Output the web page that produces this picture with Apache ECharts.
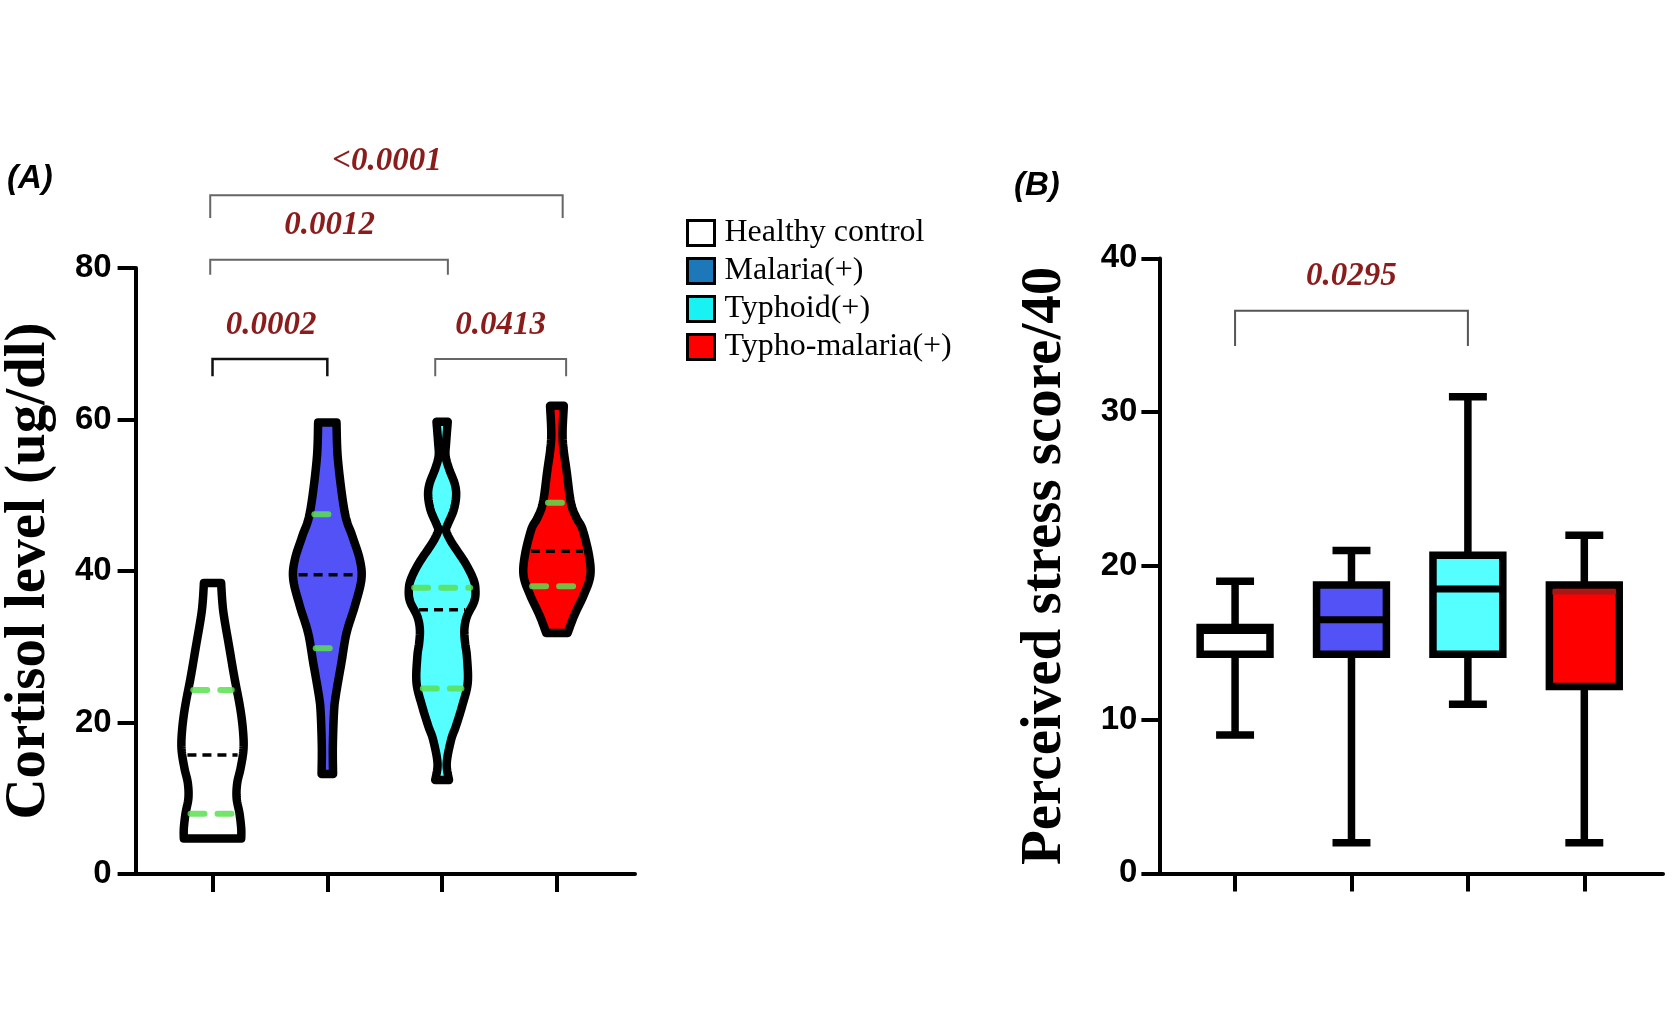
<!DOCTYPE html>
<html>
<head>
<meta charset="utf-8">
<title>Cortisol and perceived stress</title>
<script src="https://cdn.jsdelivr.net/npm/echarts@6/dist/echarts.min.js"></script>
<style>
  html, body { margin: 0; padding: 0; background: #fff; }
  #main { width: 1674px; height: 1034px; }
</style>
</head>
<body>
<div id="main"></div>
<script>
// groups, shared by both panels
const groups = ['Healthy control', 'Malaria(+)', 'Typhoid(+)', 'Typho-malaria(+)'];
const positions = [1, 2, 3, 4];

// (A) violin outlines: [cortisol value, half width in group units], top to bottom
const violinHealthy = [[38.4, 0.075], [36, 0.085], [34, 0.1], [30, 0.145], [26, 0.19], [22, 0.24], [19, 0.265],
    [16.5, 0.27], [14, 0.245], [12, 0.215], [10, 0.21], [8, 0.235], [6, 0.25], [4.7, 0.25]];
const violinMalaria = [[59.6, 0.08], [54.6, 0.093], [47.7, 0.152], [44.6, 0.218], [41.5, 0.283], [38.9, 0.297],
    [35.4, 0.24], [31.8, 0.167], [27.9, 0.123], [23.5, 0.073], [21.3, 0.058], [16.8, 0.048], [13.2, 0.05]];
const violinTyphoid = [[59.7, 0.049], [57, 0.035], [55.2, 0.03], [53.5, 0.06], [51.5, 0.11], [49.9, 0.122], [48, 0.1],
    [46.2, 0.05], [45.3, 0.035], [43.7, 0.086], [41.1, 0.2], [39, 0.27], [37.6, 0.29], [36, 0.28], [34, 0.216],
    [32.3, 0.194], [30.5, 0.2], [28.7, 0.216], [25.2, 0.223], [22.1, 0.173], [19.5, 0.12], [17.7, 0.078],
    [14.6, 0.04], [12.4, 0.06]];
const violinTyphoMalaria = [[61.8, 0.06], [57.4, 0.05], [53, 0.086], [49, 0.122], [47, 0.17], [45.5, 0.223],
    [42, 0.28], [39.3, 0.29], [36.7, 0.23], [34.1, 0.15], [31.8, 0.093]];
const violinMedian = [15.7, 39.5, 34.9, 42.6];
const violinQ1 = [7.95, 29.8, 24.5, 38.0];
const violinQ3 = [24.3, 47.5, 37.8, 49.0];

// (B) perceived stress box plots
const boxMin = [9, 2, 11, 2];
const boxQ1 = [14.25, 14.25, 14.25, 12.15];
const boxMedian = [15.8, 16.5, 18.5, 18.3];
const boxQ3 = [16, 18.75, 20.7, 18.75];
const boxMax = [19, 21, 31, 22];

// p-value brackets (data coordinates)
const pA = ['0.0002', '0.0413', '0.0012', '<0.0001'];
const pA_x1 = [1.0, 2.94, 0.98, 0.98];
const pA_x2 = [2.0, 4.08, 3.05, 4.05];
const pA_y = [68.0, 68.0, 81.1, 89.6];
const pA_leg = [65.7, 65.7, 79.1, 86.6];
const pA_labelX = [1.51, 3.51, 2.02, 2.52];
const pA_labelY = [72.4, 72.4, 85.6, 94.1];

const pB = ['0.0295'];
const pB_x1 = [1.0];
const pB_x2 = [3.0];
const pB_y = [36.6];
const pB_leg = [34.3];
const pB_labelX = [2.0];
const pB_labelY = [38.8];

const violins = [violinHealthy, violinMalaria, violinTyphoid, violinTyphoMalaria];
const fillColors = ['#ffffff', '#5252f7', '#55ffff', '#ff0000'];
const legendColors = ['#ffffff', '#1c78b8', '#18f2f2', '#ff0000'];
const medianColorsB = ['#000', '#000', '#000', '#a81616'];
const bracketColorsA = ['#111', '#666', '#666', '#666'];
const bracketWidthsA = [2.5, 2, 2, 2];
const pColor = '#8b1c1c';
const pFont = 'italic bold 33px "Liberation Serif"';

function smoothSide(pts, steps) {
    const out = [];
    for (let i = 0; i < pts.length - 1; i++) {
        const p0 = pts[Math.max(i - 1, 0)], p1 = pts[i], p2 = pts[i + 1], p3 = pts[Math.min(i + 2, pts.length - 1)];
        for (let s = 0; s < steps; s++) {
            const t = s / steps, t2 = t * t, t3 = t2 * t;
            out.push([0, 1].map(k => 0.5 * (2 * p1[k] + (-p0[k] + p2[k]) * t
                + (2 * p0[k] - 5 * p1[k] + 4 * p2[k] - p3[k]) * t2
                + (-p0[k] + 3 * p1[k] - 3 * p2[k] + p3[k]) * t3)));
        }
    }
    out.push(pts[pts.length - 1]);
    return out;
}

function halfWidthAt(prof, v) {
    for (let i = 0; i < prof.length - 1; i++) {
        const a = prof[i], b = prof[i + 1];
        if (v <= a[0] && v >= b[0]) {
            return a[1] + (b[1] - a[1]) * (a[0] - v) / (a[0] - b[0]);
        }
    }
    return 0;
}

function violinItem(i) {
    return function (params, api) {
        const prof = violins[i];
        const cx = positions[i];
        const right = prof.map(p => api.coord([cx + p[1], p[0]]));
        const left = prof.map(p => api.coord([cx - p[1], p[0]])).reverse();
        const points = smoothSide(right, 8).concat(smoothSide(left, 8));
        const children = [{
            type: 'polygon',
            shape: { points: points },
            style: { fill: fillColors[i], stroke: '#000', lineWidth: 8.5, lineJoin: 'round' }
        }];
        const lines = [
            [violinQ3[i], 'rgba(90,225,80,0.85)', 6, [14, 13]],
            [violinQ1[i], 'rgba(90,225,80,0.85)', 6, [14, 13]],
            [violinMedian[i], '#000', 3.5, [9, 6]]
        ];
        lines.forEach(function (l) {
            const hw = halfWidthAt(prof, l[0]);
            const a = api.coord([cx - hw, l[0]]);
            const b = api.coord([cx + hw, l[0]]);
            children.push({
                type: 'line',
                shape: { x1: a[0] + 5, y1: a[1], x2: b[0] - 5, y2: b[1] },
                style: { stroke: l[1], lineWidth: l[2], lineDash: l[3], lineCap: l[1] === '#000' ? 'butt' : 'round' }
            });
        });
        return { type: 'group', children: children };
    };
}

function boxItem(i) {
    return function (params, api) {
        const x = positions[i];
        const hw = 0.30, cap = 0.163;
        const top = api.coord([x, boxMax[i]]);
        const bot = api.coord([x, boxMin[i]]);
        const q3 = api.coord([x, boxQ3[i]]);
        const q1 = api.coord([x, boxQ1[i]]);
        const boxL = api.coord([x - hw, boxQ3[i]]);
        const boxR = api.coord([x + hw, boxQ1[i]]);
        const capL = api.coord([x - cap, 0])[0];
        const capR = api.coord([x + cap, 0])[0];
        const med = api.coord([x, boxMedian[i]]);
        const ls = { stroke: '#000', lineWidth: 7.5 };
        return {
            type: 'group',
            children: [
                { type: 'line', shape: { x1: top[0], y1: top[1], x2: q3[0], y2: q3[1] }, style: ls },
                { type: 'line', shape: { x1: bot[0], y1: bot[1], x2: q1[0], y2: q1[1] }, style: ls },
                { type: 'line', shape: { x1: capL, y1: top[1], x2: capR, y2: top[1] }, style: ls },
                { type: 'line', shape: { x1: capL, y1: bot[1], x2: capR, y2: bot[1] }, style: ls },
                {
                    type: 'rect',
                    shape: { x: boxL[0], y: boxL[1], width: boxR[0] - boxL[0], height: boxR[1] - boxL[1] },
                    style: { fill: fillColors[i], stroke: '#000', lineWidth: 7.5 }
                },
                {
                    type: 'line',
                    shape: { x1: boxL[0] + 3, y1: med[1], x2: boxR[0] - 3, y2: med[1] },
                    style: { stroke: medianColorsB[i], lineWidth: i === 3 ? 5 : 7 }
                }
            ]
        };
    };
}

function bracketItem(labels, x1, x2, ys, legs, lx, ly, colors, widths) {
    return function (params, api) {
        const k = params.dataIndex;
        const a = api.coord([x1[k], legs[k]]);
        const b = api.coord([x1[k], ys[k]]);
        const c = api.coord([x2[k], ys[k]]);
        const d = api.coord([x2[k], legs[k]]);
        const t = api.coord([lx[k], ly[k]]);
        return {
            type: 'group',
            children: [
                { type: 'polyline', shape: { points: [a, b, c, d] }, style: { stroke: colors[k], lineWidth: widths[k], fill: 'none' } },
                { type: 'text', style: { text: labels[k], x: t[0], y: t[1], align: 'center', verticalAlign: 'middle', fill: pColor, font: pFont } }
            ]
        };
    };
}

const axisBlack = { color: '#000', width: 4 };
const tickLabel = { fontFamily: 'Liberation Sans', fontWeight: 'bold', fontSize: 33, color: '#000' };
const nameStyle = { fontFamily: 'Liberation Serif', fontWeight: 'bold', fontSize: 57, color: '#000' };
const panelLabel = { fontFamily: 'Liberation Sans', fontStyle: 'italic', fontWeight: 'bold', fontSize: 33, color: '#000' };

const series = [];
groups.forEach(function (g, i) {
    series.push({
        type: 'custom', name: g, xAxisIndex: 0, yAxisIndex: 0, clip: false,
        data: [[positions[i], violinMedian[i]]], renderItem: violinItem(i)
    });
});
groups.forEach(function (g, i) {
    series.push({
        type: 'custom', name: g, xAxisIndex: 1, yAxisIndex: 1, clip: false,
        data: [[positions[i], boxMedian[i]]], renderItem: boxItem(i)
    });
});
series.push({
    type: 'custom', name: 'p-values A', xAxisIndex: 0, yAxisIndex: 0, clip: false, silent: true,
    data: pA.map((p, k) => [pA_x1[k], pA_y[k]]),
    renderItem: bracketItem(pA, pA_x1, pA_x2, pA_y, pA_leg, pA_labelX, pA_labelY, bracketColorsA, bracketWidthsA)
});
series.push({
    type: 'custom', name: 'p-values B', xAxisIndex: 1, yAxisIndex: 1, clip: false, silent: true,
    data: pB.map((p, k) => [pB_x1[k], pB_y[k]]),
    renderItem: bracketItem(pB, pB_x1, pB_x2, pB_y, pB_leg, pB_labelX, pB_labelY, ['#555'], [2])
});

const chart = echarts.init(document.getElementById('main'));
chart.setOption({
    animation: false,
    title: [
        { text: '(A)', left: 7, top: 162, padding: 0, textStyle: panelLabel },
        { text: '(B)', left: 1014, top: 169, padding: 0, textStyle: panelLabel }
    ],
    legend: {
        orient: 'vertical', left: 686, top: 217, padding: 0, itemGap: 6,
        itemWidth: 27, itemHeight: 25, icon: 'rect', selectedMode: false,
        textStyle: { fontFamily: 'Liberation Serif', fontSize: 32, color: '#000', padding: [0, 0, 0, 5] },
        data: groups.map((g, i) => ({
            name: g,
            itemStyle: { color: legendColors[i], borderColor: '#000', borderWidth: 3 }
        }))
    },
    grid: [
        { left: 135.6, top: 268, width: 499.4, height: 606, outerBoundsMode: 'none' },
        { left: 1159.4, top: 258.4, width: 503.6, height: 615, outerBoundsMode: 'none' }
    ],
    xAxis: [
        { gridIndex: 0, type: 'value', min: 0.33, max: 4.68,
          axisLine: { lineStyle: axisBlack },
          axisTick: { show: true, customValues: positions, length: 18, lineStyle: axisBlack },
          axisLabel: { show: false }, splitLine: { show: false } },
        { gridIndex: 1, type: 'value', min: 0.35, max: 4.676,
          axisLine: { lineStyle: axisBlack },
          axisTick: { show: true, customValues: positions, length: 18, lineStyle: axisBlack },
          axisLabel: { show: false }, splitLine: { show: false } }
    ],
    yAxis: [
        { gridIndex: 0, type: 'value', min: 0, max: 80, interval: 20,
          name: 'Cortisol level (ug/dl)', nameLocation: 'middle', nameRotate: 90, nameGap: 78,
          nameMoveOverlap: false, nameTextStyle: nameStyle,
          axisLine: { show: true, lineStyle: axisBlack },
          axisTick: { show: true, length: 18, lineStyle: axisBlack },
          axisLabel: Object.assign({ margin: 24 }, tickLabel), splitLine: { show: false } },
        { gridIndex: 1, type: 'value', min: 0, max: 40, interval: 10,
          name: 'Perceived stress score/40', nameLocation: 'middle', nameRotate: 90, nameGap: 86,
          nameMoveOverlap: false, nameTextStyle: nameStyle,
          axisLine: { show: true, lineStyle: axisBlack },
          axisTick: { show: true, length: 18, lineStyle: axisBlack },
          axisLabel: Object.assign({ margin: 22 }, tickLabel), splitLine: { show: false } }
    ],
    series: series
});
</script>
</body>
</html>
